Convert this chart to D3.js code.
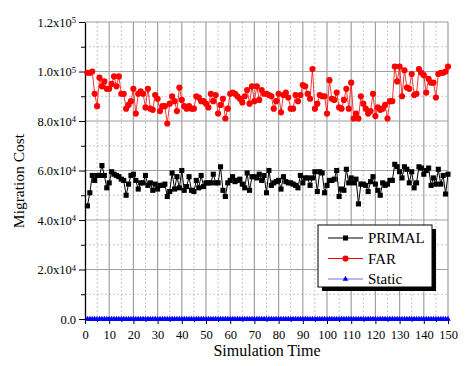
<!DOCTYPE html>
<head>
    <title>Migration Cost</title>
    <script src="https://cdn.jsdelivr.net/npm/d3@7"></script>
    <style>
      body { margin: 0; background: #fff; }
      svg text { font-family: "Liberation Serif", "Times New Roman", Times, serif !important; }
    </style>
</head>
<body>
<div id="container"></div>
<script>

// Données (temps 1..150)
const temps = d3.range(1, 151);

const primal = [
  45.7, 51, 58, 56, 58, 58, 62, 58, 53, 55,
  59.5, 58.5, 58, 57.5, 56.5, 56, 50, 54.5, 58, 58.5,
  56, 52.5, 55, 55, 58, 54, 55, 52, 54.5, 52.5,
  54, 54, 54.5, 49.5, 51.5, 59, 52.5, 57.5, 53, 60,
  52, 53.5, 57.5, 52, 51.5, 56, 53, 58, 53.5, 55,
  55, 55, 58.5, 55, 55, 61.5, 52, 49.5, 55, 56,
  57.5, 55.5, 56, 56.5, 54.5, 53, 59, 52, 57.5, 57.5,
  57, 58.5, 56, 58, 51, 60, 54, 55, 55.5, 56,
  52.5, 57.5, 55.5, 55, 55, 54.5, 54, 53, 58, 55,
  57, 57, 54, 57, 59.5, 51.5, 59.5, 59, 51, 54,
  56, 56, 56.5, 60, 49.5, 52.5, 52, 60.5, 55, 57,
  55, 56.5, 46.5, 54.5, 54.5, 54, 51.5, 55.5, 57.5, 54.5,
  52, 50, 55, 54, 54.5, 56, 56, 62.5, 61.5, 59.5,
  57, 61.5, 60.5, 55, 59.5, 53, 55, 61.5, 61, 58.5,
  60, 61, 54, 57, 54.5, 60.5, 54.5, 58, 50.5, 58.5
].map(v => v * 1000);

const far = [
  99.5, 99.5, 100, 91, 86, 97.5, 94, 96, 93, 93,
  95, 98, 94, 98, 91, 91, 85, 86.5, 88, 93,
  83, 91, 92, 91, 85.5, 93, 85, 84.5, 90.5, 89,
  84, 86, 86, 79, 87, 90, 88, 84, 93.5, 88.5,
  86, 85, 86, 85, 85, 90, 89.5, 88, 88, 87,
  85.5, 91, 88, 90.5, 83, 86.5, 89, 81, 85, 91,
  91.5, 91, 90, 89, 87.5, 90, 92.5, 87, 94, 88,
  94, 88.5, 92.5, 91, 91, 90.5, 90, 85, 88, 91,
  83.5, 90.5, 91.5, 89.5, 85, 85, 90.5, 88, 90.5, 94.5,
  94, 91, 89, 101, 85, 87, 90.5, 90, 90, 83,
  96.5, 89, 88.5, 91.5, 85.5, 85, 88.5, 93, 85, 95.5,
  81, 83, 81, 90, 87, 85, 83, 84, 91, 82,
  85.5, 84.5, 85, 86.5, 81, 88, 88, 102, 96, 102,
  90, 100.5, 93.5, 93, 99, 90.5, 91, 101, 99.5, 98.5,
  91.5, 97, 95.5, 95.5, 89.5, 99, 99.5, 99.5, 100, 102
].map(v => v * 1000);

const statique = temps.map(() => 0);

const series = [
  { nom: "PRIMAL", couleur: "#000000", symbole: d3.symbolSquare, taille: 26, valeurs: primal },
  { nom: "FAR", couleur: "#ff0000", symbole: d3.symbolCircle, taille: 30, valeurs: far },
  { nom: "Static", couleur: "#0000ff", symbole: d3.symbolTriangle, taille: 14, valeurs: statique }
];

const police = "Liberation Serif, Times New Roman, Times, serif";

// Dimensions et marges
const marginTop = 22;
const marginRight = 24;
const marginBottom = 47;
const marginLeft = 85;
const width = 472 - marginLeft - marginRight;
const height = 366 - marginTop - marginBottom;

const svg = d3.select("#container")
  .append("svg")
  .attr("width", width + marginLeft + marginRight)
  .attr("height", height + marginTop + marginBottom)
  .attr("font-family", police)
  .append("g")
  .attr("transform", `translate(${marginLeft},${marginTop})`);

// Échelles
const x = d3.scaleLinear().domain([0, 150]).range([0, width]);
const y = d3.scaleLinear().domain([0, 120000]).range([height, 0]);

// Grille secondaire (pointillés)
svg.append("g")
  .selectAll("line")
  .data(d3.range(5, 150, 10))
  .join("line")
  .attr("x1", d => x(d)).attr("x2", d => x(d))
  .attr("y1", 0).attr("y2", height)
  .attr("stroke", "#c8c8c8").attr("stroke-dasharray", "2,2");

svg.append("g")
  .selectAll("line")
  .data(d3.range(10000, 120000, 20000))
  .join("line")
  .attr("y1", d => y(d)).attr("y2", d => y(d))
  .attr("x1", 0).attr("x2", width)
  .attr("stroke", "#c8c8c8").attr("stroke-dasharray", "2,2");

// Grille principale
svg.append("g")
  .selectAll("line")
  .data(d3.range(10, 151, 10))
  .join("line")
  .attr("x1", d => x(d)).attr("x2", d => x(d))
  .attr("y1", 0).attr("y2", height)
  .attr("stroke", "#a0a0a0").attr("stroke-width", 1.2);

svg.append("g")
  .selectAll("line")
  .data(d3.range(20000, 120001, 20000))
  .join("line")
  .attr("y1", d => y(d)).attr("y2", d => y(d))
  .attr("x1", 0).attr("x2", width)
  .attr("stroke", "#a0a0a0").attr("stroke-width", 1.2);

// Axe X
const axeX = svg.append("g")
  .attr("transform", `translate(0,${height})`)
  .call(d3.axisBottom(x).tickValues(d3.range(0, 151, 10)).tickSize(5).tickSizeOuter(0));
svg.append("g")
  .attr("transform", `translate(0,${height})`)
  .call(d3.axisBottom(x).tickValues(d3.range(5, 150, 10)).tickSize(3).tickFormat("").tickSizeOuter(0))
  .select(".domain").remove();
axeX.attr("font-family", police);
axeX.selectAll("text")
  .attr("font-size", 12.5).attr("dy", "0.95em");

// Axe Y avec exposants
const fmtY = v => {
  if (v === 0) return { m: "0.0", e: null };
  const e = Math.floor(Math.log10(v));
  return { m: (v / Math.pow(10, e)).toFixed(1) + "x10", e: e };
};
const axeY = svg.append("g")
  .call(d3.axisLeft(y).tickValues(d3.range(0, 120001, 20000)).tickSize(6).tickSizeOuter(0).tickFormat(""));
svg.append("g")
  .call(d3.axisLeft(y).tickValues(d3.range(10000, 120000, 20000)).tickSize(4).tickFormat("").tickSizeOuter(0))
  .select(".domain").remove();
axeY.attr("font-family", police);
axeY.selectAll(".tick").each(function(d) {
  const f = fmtY(d);
  const t = d3.select(this).append("text")
    .attr("x", -9)
    .attr("dy", "0.35em")
    .attr("text-anchor", "end")
    .attr("fill", "#000")
    .attr("font-size", 12.5);
  t.append("tspan").text(f.m);
  if (f.e !== null) {
    t.append("tspan").attr("dy", "-0.45em").attr("font-size", 8.5).text(f.e);
  }
});
svg.selectAll(".domain").attr("stroke", "#000").attr("stroke-width", 1.3);

// Séries
const line = d3.line()
  .x((d, i) => x(temps[i]))
  .y(d => y(d));

series.forEach(s => {
  const g = svg.append("g");
  g.append("path")
    .attr("d", line(s.valeurs))
    .attr("fill", "none")
    .attr("stroke", s.couleur)
    .attr("stroke-width", s.nom === "Static" ? 2.5 : 1)
    .attr("stroke-opacity", s.nom === "FAR" ? 0.8 : 1);
  g.selectAll("path.pt")
    .data(s.valeurs)
    .join("path")
    .attr("class", "pt")
    .attr("transform", (d, i) => `translate(${x(temps[i])},${y(d)})`)
    .attr("d", d3.symbol(s.symbole, s.taille))
    .attr("fill", s.couleur);
});

// Légende
const lg = svg.append("g").attr("transform", `translate(${318 - marginLeft},${225 - marginTop})`);
lg.append("rect").attr("x", 4).attr("y", 4).attr("width", 114).attr("height", 62).attr("fill", "#000");
lg.append("rect").attr("width", 114).attr("height", 62).attr("fill", "#fff").attr("stroke", "#000");
series.forEach((s, i) => {
  const yy = 13 + i * 20.5;
  lg.append("line").attr("x1", 10).attr("x2", 45).attr("y1", yy).attr("y2", yy)
    .attr("stroke", s.nom === "Static" ? "#6f6fff" : s.couleur).attr("stroke-width", 1.2);
  lg.append("path").attr("transform", `translate(27.5,${yy})`)
    .attr("d", d3.symbol(s.symbole, s.taille)).attr("fill", s.couleur);
  lg.append("text").attr("x", 50).attr("y", yy).attr("dy", "0.35em")
    .attr("font-size", 15).text(s.nom);
});

// Titres des axes
svg.append("text")
  .attr("x", 267 - marginLeft).attr("y", height + 37)
  .attr("text-anchor", "middle").attr("font-size", 16)
  .text("Simulation Time");
svg.append("text")
  .attr("transform", `translate(${-61},${181 - marginTop}) rotate(-90)`)
  .attr("text-anchor", "middle").attr("font-size", 15.5)
  .text("Migration Cost");

</script>
</body>
